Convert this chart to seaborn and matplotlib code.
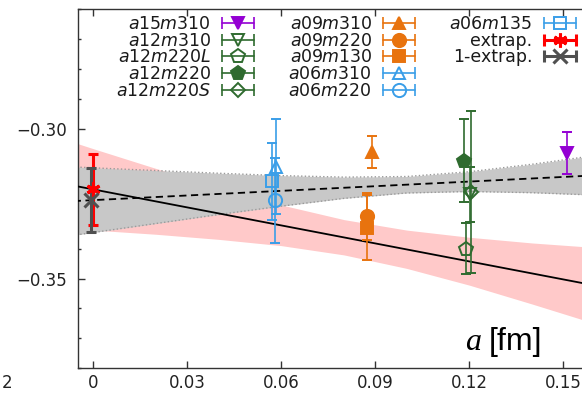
import numpy as np
import pandas as pd
import matplotlib
matplotlib.use("Agg")
import matplotlib.pyplot as plt
import seaborn as sns
from matplotlib.lines import Line2D
from matplotlib.legend_handler import HandlerLine2D, HandlerTuple
from matplotlib.ticker import MultipleLocator, FuncFormatter

# ---------------- data ----------------
labels = ["a15m310", "a12m310", "a12m220L", "a12m220", "a12m220S",
          "a09m310", "a09m220", "a09m130", "a06m310", "a06m220",
          "a06m135", "extrap.", "1-extrap."]
a_fm = [0.1512, 0.1203, 0.1191, 0.1184, 0.1206,
        0.0890, 0.0872, 0.0875, 0.0582, 0.0580,
        0.0570, 0.0000, -0.0008]
value = [-0.3080, -0.3219, -0.3400, -0.3106, -0.3211,
         -0.3078, -0.3292, -0.3330, -0.3126, -0.3239,
         -0.3175, -0.3202, -0.3239]
error = [0.0071, 0.0092, 0.0085, 0.0138, 0.0270,
         0.0053, 0.0078, 0.0109, 0.0159, 0.0141,
         0.0128, 0.0118, 0.0107]

band_x = [-0.01, 0.0, 0.02, 0.04, 0.06, 0.08, 0.10, 0.12, 0.14, 0.16, 0.17]
fit_lo = [-0.3332, -0.3338, -0.3352, -0.3369, -0.3390, -0.3421, -0.3466, -0.3522, -0.3585, -0.3650, -0.3684]
fit_hi = [-0.3032, -0.3066, -0.3132, -0.3195, -0.3254, -0.3303, -0.3338, -0.3362, -0.3381, -0.3396, -0.3402]
one_lo = [-0.3361, -0.3346, -0.3316, -0.3286, -0.3258, -0.3232, -0.3214, -0.3209, -0.3213, -0.3221, -0.3225]
one_hi = [-0.3125, -0.3130, -0.3139, -0.3148, -0.3156, -0.3161, -0.3159, -0.3143, -0.3118, -0.3089, -0.3075]
line_x = [-0.01, 0.17]
fit_line = [-0.3182, -0.3543]
one_line = [-0.3243, -0.3150]

xticks = [0.0, 0.03, 0.06, 0.09, 0.12, 0.15]
xtick_labels = ["0", "0.03", "0.06", "0.09", "0.12", "0.15"]

# ---------------- styles ----------------
purple = "#9400d3"
green = "#2f6b2f"
orange = "#e8730e"
blue = "#3a9ee8"
red = "#ff0000"
dgray = "#505050"
colors = [purple, green, green, green, green,
          orange, orange, orange, blue, blue, blue, red, dgray]
markers = ["v", "v", "p", "p", "D", "^", "o", "s", "^", "o", "s", (6, 2, 0), "x"]
filled = [True, False, False, True, False, True, True, True, False, False, False, True, True]
msizes = [9, 9, 10, 10, 7.5, 9, 9.5, 8.5, 9, 9.5, 8.5, 10, 10]
lws = [1.2] * 11 + [2.2, 2.2]

sns.set_theme(style="ticks")
plt.rcParams["font.family"] = ["DejaVu Sans"]
plt.rcParams["mathtext.fontset"] = "dejavusans"
plt.rcParams["axes.unicode_minus"] = True

W, H = 582, 393
fig = plt.figure(figsize=(W / 100, H / 100), dpi=100)
x0px, x1px = 78.3, 594.6
ytop, ybot = 9.3, 368.3
ax = fig.add_axes([x0px / W, 1 - ybot / H, (x1px - x0px) / W, (ybot - ytop) / H])

# bands
ax.fill_between(band_x, fit_lo, fit_hi, color="#ffc9c9", lw=0, zorder=1)
ax.fill_between(band_x, one_lo, one_hi, color="#c8c8c8", lw=0, zorder=2)
ax.plot(band_x, one_lo, color="#9a9a9a", lw=1.0, ls=":", zorder=2.5)
ax.plot(band_x, one_hi, color="#9a9a9a", lw=1.0, ls=":", zorder=2.5)

df_lines = pd.DataFrame({"a": line_x * 2,
                         "y": fit_line + one_line,
                         "kind": ["fit"] * 2 + ["one"] * 2})
sns.lineplot(data=df_lines[df_lines.kind == "fit"], x="a", y="y", color="black",
             lw=1.3, ax=ax, zorder=3)
sns.lineplot(data=df_lines[df_lines.kind == "one"], x="a", y="y", color="black",
             lw=1.3, ls=(0, (4, 2.5)), ax=ax, zorder=3)

handles = []
handler_map = {tuple: HandlerTuple(ndivide=1, pad=0)}
for i, lab in enumerate(labels):
    c = colors[i]
    mfc = c if filled[i] else "none"
    ax.errorbar(a_fm[i], value[i], yerr=error[i], color=c, ecolor=c,
                elinewidth=lws[i], capsize=3.5, capthick=lws[i],
                marker=markers[i], ms=msizes[i], mfc=mfc, mec=c,
                mew=1.4 if i < 11 else 2.2, ls="none", zorder=5 + i * 0.01)
    cap = Line2D([], [], color=c, lw=lws[i], marker="|", ms=8, mew=lws[i])
    mk = Line2D([], [], color=c, ls="none", marker=markers[i], ms=msizes[i],
                mfc=mfc, mec=c, mew=1.4 if i < 11 else 2.2)
    handler_map[cap] = HandlerLine2D(numpoints=2, marker_pad=0)
    handles.append((cap, mk))

leg_labels = [("$%s$" % l) if l.startswith("a") else l for l in labels]
blank1 = Line2D([], [], alpha=0)
blank2 = Line2D([], [], alpha=0)
handles += [blank1, blank2]
leg_labels += ["", ""]

leg = ax.legend(handles, leg_labels, handler_map=handler_map, ncol=3,
                markerfirst=False, frameon=False, fontsize=12.5, numpoints=1,
                handlelength=1.85, handletextpad=0.65, columnspacing=1.95,
                labelspacing=-0.075, borderpad=0, borderaxespad=0,
                loc="upper left",
                bbox_to_anchor=(116 / W, 1 - 15 / H), bbox_transform=fig.transFigure)
for t in leg.get_texts():
    t.set_color("#1a1a1a")

ax.set_xlim(-0.0048, 0.16)
ax.set_ylim(-0.38, -0.26)
ax.set_xticks(xticks, labels=xtick_labels)
ax.yaxis.set_major_locator(MultipleLocator(0.05))
ax.yaxis.set_minor_locator(MultipleLocator(0.01))
ax.yaxis.set_major_formatter(FuncFormatter(lambda v, p: ("%.2f" % v).replace("-", "\u2212")))
ax.tick_params(axis="both", which="both", direction="in", colors="#333333",
               labelcolor="#222222", labelsize=12)
ax.tick_params(axis="x", which="major", top=True, length=5, width=1, pad=4)
ax.tick_params(axis="y", which="major", length=5, width=1, pad=8)
ax.tick_params(axis="y", which="minor", length=2.5, width=1)
for s in ["left", "bottom", "top"]:
    ax.spines[s].set_color("#333333")
    ax.spines[s].set_linewidth(1.0)
ax.spines["right"].set_visible(False)
ax.set_xlabel("")
ax.set_ylabel("")

fig.text(542 / W, 1 - 350 / H, "[fm]", family="Liberation Sans", fontsize=23,
         ha="right", va="baseline", color="black")
fig.text(481 / W, 1 - 350 / H, "a", family="Liberation Serif", style="italic",
         fontsize=23, ha="right", va="baseline", color="black")
fig.text(2 / W, 1 - 388 / H, "2", fontsize=12, color="#222222", ha="left", va="baseline")

fig.savefig("out.png", dpi=100)
